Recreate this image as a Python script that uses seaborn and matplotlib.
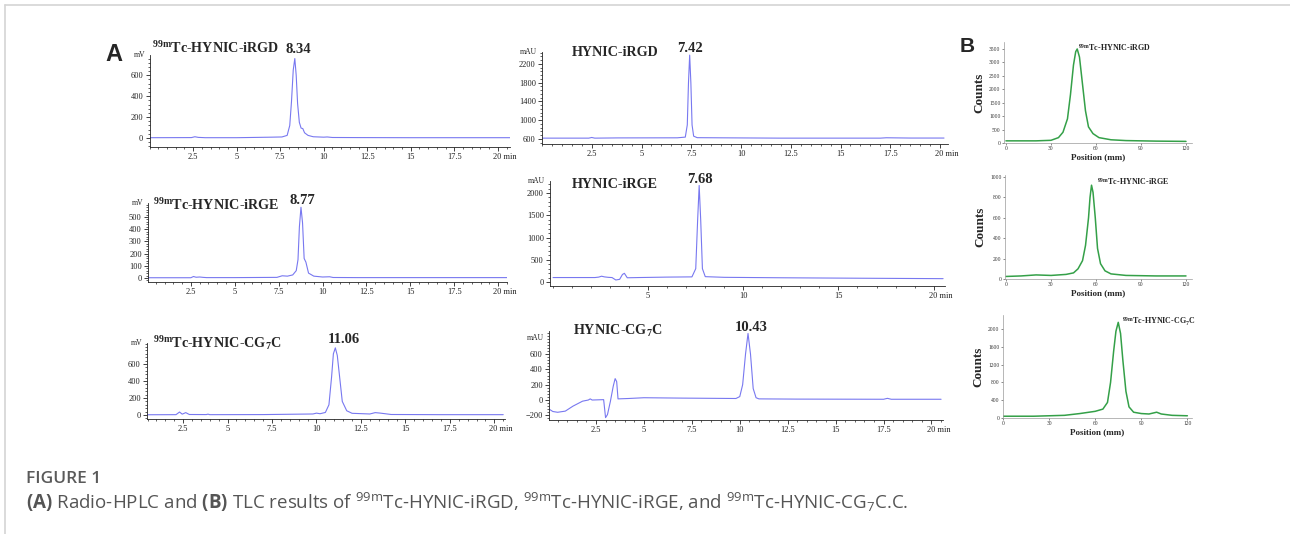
import numpy as np
import pandas as pd
import matplotlib
matplotlib.use("Agg")
import matplotlib.pyplot as plt
import seaborn as sns
from matplotlib.lines import Line2D
from matplotlib.ticker import AutoMinorLocator
from matplotlib.transforms import ScaledTranslation

# ---------------- values ----------------
# (A) HPLC traces: retention time (min) vs detector signal
tc_irgd_time = [0, 2.4, 2.6, 2.8, 3.2, 5.0, 7.0, 7.6, 7.9, 8.05, 8.15, 8.25, 8.34, 8.42,
                8.5, 8.6, 8.7, 8.8, 8.9, 9.1, 9.4, 10.0, 10.2, 10.5, 12, 15, 18, 20.7]
tc_irgd_mv = [3, 4, 12, 6, 3, 3, 8, 10, 25, 120, 350, 650, 760, 600,
              330, 150, 95, 90, 50, 25, 12, 8, 10, 5, 4, 3, 3, 3]

irgd_time = [0, 2.35, 2.5, 2.65, 3.8, 6.8, 7.2, 7.3, 7.36, 7.42, 7.48, 7.54, 7.62, 7.8,
             9.0, 12, 17, 17.3, 18.5, 20.2]
irgd_mau = [618, 618, 632, 618, 623, 625, 640, 900, 1800, 2390, 1800, 900, 660, 628,
            625, 618, 618, 626, 620, 620]

tc_irge_time = [0, 2.5, 2.65, 2.8, 3.0, 3.2, 3.4, 5, 7.4, 7.7, 8.0, 8.3, 8.5, 8.6, 8.68,
                8.77, 8.86, 8.95, 9.05, 9.2, 9.5, 10.0, 10.4, 10.6, 12, 15, 20.5]
tc_irge_mv = [2, 2, 12, 6, 8, 5, 3, 3, 5, 18, 15, 25, 60, 150, 420,
              580, 450, 160, 130, 40, 15, 8, 10, 4, 3, 3, 3]

irge_time = [0, 2.2, 2.4, 2.55, 2.7, 2.9, 3.1, 3.3, 3.5, 3.65, 3.75, 3.9, 4.5, 6, 7.3,
             7.5, 7.6, 7.68, 7.76, 7.85, 8.0, 9, 12, 16, 20.5]
irge_mau = [100, 100, 110, 130, 115, 105, 100, 45, 60, 170, 195, 95, 100, 110, 115,
            300, 1400, 2170, 1400, 300, 120, 105, 95, 85, 75]

tc_cg7c_time = [0.5, 2.1, 2.3, 2.45, 2.65, 2.85, 3.8, 3.9, 4.0, 7, 9.8, 10.0, 10.2, 10.5,
                10.7, 10.85, 10.95, 11.06, 11.17, 11.3, 11.45, 11.7, 12.0, 13.0, 13.3,
                13.6, 14.2, 17, 20.5]
tc_cg7c_mv = [3, 4, 35, 10, 28, 6, 5, 10, 4, 5, 12, 22, 15, 30,
              120, 450, 720, 790, 700, 450, 160, 50, 20, 12, 28,
              22, 6, 4, 4]

cg7c_time = [0, 0.25, 0.5, 0.9, 1.3, 1.8, 2.1, 2.2, 2.3, 2.9, 3.0, 3.1, 3.25, 3.4, 3.5,
             3.58, 3.65, 4.2, 5.0, 7.0, 9.8, 10.0, 10.15, 10.3, 10.43, 10.56, 10.7,
             10.85, 11.0, 13, 17.5, 17.7, 17.9, 20.5]
cg7c_mau = [-110, -150, -160, -145, -80, -15, 0, 15, 0, 5, -230, -190, -20, 180, 280,
            240, 15, 20, 30, 25, 20, 45, 200, 600, 870, 600, 150,
            30, 15, 12, 10, 22, 10, 10]

# (B) TLC scans: position (mm) vs counts
tlc_irgd_pos = [0, 20, 30, 35, 38, 41, 43, 45, 46.5, 47.5, 49, 51, 53, 55, 58, 62, 70, 80, 100, 120]
tlc_irgd_counts = [80, 80, 100, 200, 400, 900, 1800, 2900, 3400, 3500, 3200, 2200, 1200, 600,
                   350, 200, 120, 90, 70, 60]

tlc_irge_pos = [0, 10, 20, 30, 40, 45, 48, 51, 53, 55, 56, 57, 58, 59.5, 61, 63, 66, 70, 80, 100, 120]
tlc_irge_counts = [25, 30, 40, 35, 45, 60, 100, 180, 330, 600, 800, 920, 850, 600, 300, 150,
                   80, 50, 35, 30, 30]

tlc_cg7c_pos = [0, 20, 40, 50, 60, 65, 68, 70, 72, 73.5, 75, 76.5, 78, 80, 82, 85, 90, 95,
                100, 103, 110, 120]
tlc_cg7c_counts = [40, 40, 60, 100, 150, 200, 350, 800, 1500, 1950, 2150, 1900, 1300, 600,
                   250, 130, 100, 90, 130, 90, 60, 50]

# tick labels
quarter_ticks = [2.5, 5, 7.5, 10, 12.5, 15, 17.5, 20]
quarter_labels = ["2.5", "5", "7.5", "10", "12.5", "15", "17.5", "20 min"]
five_ticks = [5, 10, 15, 20]
five_labels = ["5", "10", "15", "20 min"]
tlc_ticks = [0, 30, 60, 90, 120]

# panel titles and peak labels
hplc_titles = ["$^{99m}$Tc-HYNIC-iRGD", "HYNIC-iRGD", "$^{99m}$Tc-HYNIC-iRGE",
               "HYNIC-iRGE", "$^{99m}$Tc-HYNIC-CG$_7$C", "HYNIC-CG$_7$C"]
peak_labels = ["8.34", "7.42", "8.77", "7.68", "11.06", "10.43"]
tlc_titles = ["$^{99m}$Tc-HYNIC-iRGD", "$^{99m}$Tc-HYNIC-iRGE", "$^{99m}$Tc-HYNIC-CG$_7$C"]

# ---------------- style ----------------
sns.set_theme(style="white")
plt.rcParams["font.family"] = ["Liberation Serif", "DejaVu Serif"]
plt.rcParams["mathtext.default"] = "regular"
plt.rcParams["mathtext.fontset"] = "custom"
plt.rcParams["mathtext.rm"] = "Open Sans"
plt.rcParams["mathtext.bf"] = "Open Sans:bold"

W, H = 1290, 534
fig = plt.figure(figsize=(W / 100, H / 100), dpi=100, facecolor="white")

HPLC_COLOR = "#7878f0"
TLC_COLOR = "#34a048"


def place(left, top, right, bottom):
    return fig.add_axes([left / W, 1 - bottom / H, (right - left) / W, (bottom - top) / H])


def fx(x):
    return x / W


def fy(y):
    return 1 - y / H


# ---------------- (A) HPLC ----------------
hplc = [
    (tc_irgd_time, tc_irgd_mv, "mV", (149.6, 55, 510, 147), (0, 20.7), (-86, 794),
     [0, 200, 400, 600], quarter_ticks, quarter_labels, 1.0),
    (irgd_time, irgd_mau, "mAU", (542, 52, 948, 144), (0, 20.4), (493, 2456),
     [600, 1000, 1400, 1800, 2200], quarter_ticks, quarter_labels, 1.0),
    (tc_irge_time, tc_irge_mv, "mV", (148, 203, 507, 282), (0.06, 20.5), (-33, 615),
     [0, 100, 200, 300, 400, 500], quarter_ticks, quarter_labels, 1.0),
    (irge_time, irge_mau, "mAU", (550, 181, 945, 286), (-0.16, 20.6), (-90, 2270),
     [0, 500, 1000, 1500, 2000], five_ticks, five_labels, 1.0),
    (tc_cg7c_time, tc_cg7c_mv, "mV", (147, 343, 505, 419), (0.47, 20.6), (-47, 847),
     [0, 200, 400, 600], quarter_ticks, quarter_labels, 1.0),
    (cg7c_time, cg7c_mau, "mAU", (549, 331, 943, 420), (0.05, 20.6), (-261, 902),
     [-200, 0, 200, 400, 600], quarter_ticks, quarter_labels, 0.92),
]
# title anchor (left x, baseline y) and peak label (center x, baseline y) in pixels
title_pos = [(152, 53), (572, 56), (153, 210), (572, 188), (153, 348), (573, 335)]
peak_pos = [(298, 53), (690, 52), (302, 204), (700, 183), (344, 343), (751, 331)]

for i, (t, v, unit, box, xl, yl, yt, xt, xtl, unit_y) in enumerate(hplc):
    ax = place(*box)
    df = pd.DataFrame({"time": t, "signal": v})
    sns.lineplot(data=df, x="time", y="signal", ax=ax, color=HPLC_COLOR, lw=0.8,
                 estimator=None, sort=False)
    ax.set_xlim(*xl)
    ax.set_ylim(*yl)
    ax.set_xticks(xt, xtl)
    ax.set_yticks(yt)
    ax.xaxis.set_minor_locator(AutoMinorLocator(5))
    ax.yaxis.set_minor_locator(AutoMinorLocator(5))
    ax.tick_params(which="both", bottom=True, left=True, direction="out", colors="#222222")
    ax.tick_params(which="major", length=3, width=0.6, labelsize=6, pad=1.5)
    ax.tick_params(which="minor", length=1.5, width=0.5)
    last = ax.get_xticklabels()[-1]
    last.set_transform(last.get_transform() + ScaledTranslation(5 / 72, 0, fig.dpi_scale_trans))
    ax.set_xlabel("")
    ax.set_ylabel("")
    ax.set_facecolor("none")
    for s in ["top", "right"]:
        ax.spines[s].set_visible(False)
    for s in ["left", "bottom"]:
        ax.spines[s].set_linewidth(0.6)
        ax.spines[s].set_color("#222222")
    ax.text(-0.012, unit_y, unit, transform=ax.transAxes, ha="right", va="center", fontsize=5.5)

    tx, ty = title_pos[i]
    fig.text(fx(tx), fy(ty), hplc_titles[i], fontsize=10.2, fontweight="bold", va="baseline", ha="left")
    px, py = peak_pos[i]
    fig.text(fx(px), fy(py), peak_labels[i], fontsize=10.5, fontweight="bold", va="baseline", ha="center")

# ---------------- (B) TLC ----------------
tlc = [
    (tlc_irgd_pos, tlc_irgd_counts, (1004, 42, 1192, 143), (-1.3, 124), (0, 3760),
     [0, 500, 1000, 1500, 2000, 2500, 3000, 3500]),
    (tlc_irge_pos, tlc_irge_counts, (1005, 175, 1192, 279), (-0.7, 124), (0, 1020),
     [0, 200, 400, 600, 800, 1000]),
    (tlc_cg7c_pos, tlc_cg7c_counts, (1003, 315, 1192, 418), (0, 123), (0, 2315),
     [0, 400, 800, 1200, 1600, 2000]),
]
tlc_title_pos = [(1078, 51), (1097, 185), (1122, 325)]

for i, (p, c, box, xl, yl, yt) in enumerate(tlc):
    ax = place(*box)
    df = pd.DataFrame({"position": p, "counts": c})
    sns.lineplot(data=df, x="position", y="counts", ax=ax, color=TLC_COLOR, lw=1.1,
                 estimator=None, sort=False)
    ax.set_xlim(*xl)
    ax.set_ylim(*yl)
    ax.set_xticks(tlc_ticks)
    ax.set_yticks(yt)
    ax.tick_params(which="major", bottom=True, left=True, direction="out", length=1.5,
                   width=0.4, labelsize=4, pad=1, colors="#333333")
    ax.set_xlabel("Position (mm)", fontsize=6.5, fontweight="bold", labelpad=1.5)
    ax.set_ylabel("Counts", fontsize=9.5, fontweight="bold", labelpad=2.5)
    ax.set_facecolor("none")
    for s in ["top", "right"]:
        ax.spines[s].set_visible(False)
    for s in ["left", "bottom"]:
        ax.spines[s].set_linewidth(0.5)
        ax.spines[s].set_color("#9a9a9a")
    tx, ty = tlc_title_pos[i]
    fig.text(fx(tx), fy(ty), tlc_titles[i], fontsize=5.8, fontweight="bold", va="baseline", ha="left")

# panel letters
fig.text(fx(105), fy(61), "A", fontsize=17, fontweight="bold", family="Liberation Sans", va="baseline")
fig.text(fx(960), fy(52), "B", fontsize=15, fontweight="bold", family="Liberation Sans", va="baseline")

# page frame lines
fig.add_artist(Line2D([fx(5), 1], [fy(5), fy(5)], transform=fig.transFigure, color="#d4d4d4", lw=1.2))
fig.add_artist(Line2D([fx(5), fx(5)], [fy(5), 0], transform=fig.transFigure, color="#d4d4d4", lw=1.2))

# caption
fig.text(fx(26), fy(479), "FIGURE 1", fontsize=12.5, fontweight="semibold", family="Open Sans",
         color="#5a5a5a", va="center", ha="left")
fig.text(fx(26), fy(502),
         r"$\mathbf{(A)}$ Radio-HPLC and $\mathbf{(B)}$ TLC results of $^{99m}$Tc-HYNIC-iRGD, "
         r"$^{99m}$Tc-HYNIC-iRGE, and $^{99m}$Tc-HYNIC-CG$_7$C.C.",
         fontsize=13.5, family="Open Sans", color="#555555", va="center", ha="left")

fig.savefig("out.png", dpi=100, facecolor="white")
